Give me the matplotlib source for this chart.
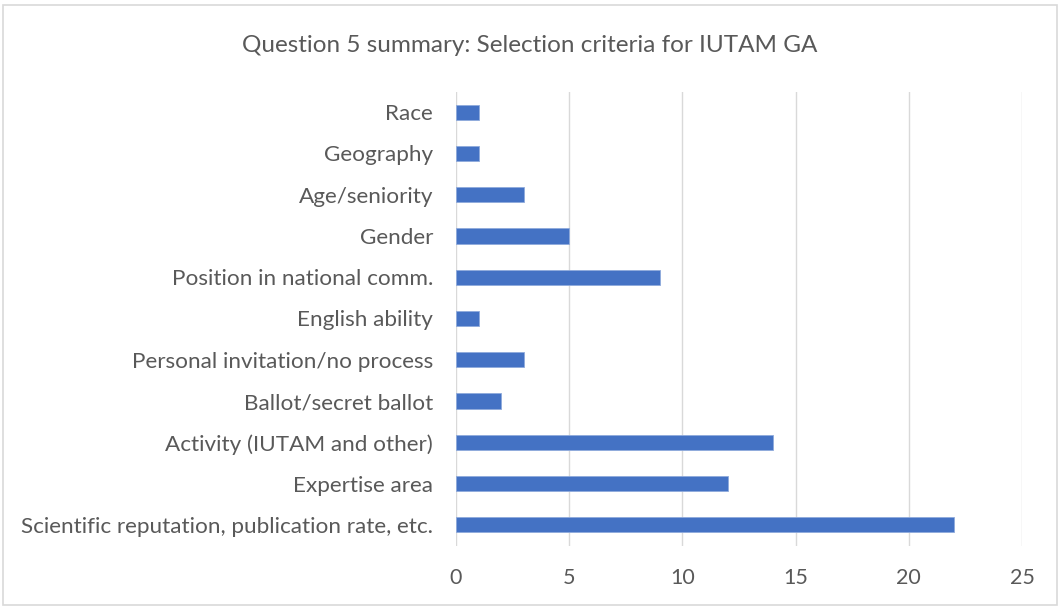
import matplotlib.pyplot as plt
from matplotlib.patches import Rectangle

# data, top to bottom as shown
criteria = ['Race', 'Geography', 'Age/seniority', 'Gender', 'Position in national comm.',
            'English ability', 'Personal invitation/no process', 'Ballot/secret ballot',
            'Activity (IUTAM and other)', 'Expertise area',
            'Scientific reputation, publication rate, etc.']
counts = [1, 1, 3, 5, 9, 1, 3, 2, 14, 12, 22]
xticks = [0, 5, 10, 15, 20, 25]

plt.rcParams['font.family'] = ['Lato', 'DejaVu Sans']
txt = '#595959'

fig = plt.figure(figsize=(10.6, 6.08), dpi=100)
ax = fig.add_axes([456 / 1060, 1 - 545.5 / 608, (1022 - 456) / 1060, (545.5 - 91.5) / 608])

ypos = list(range(len(criteria)))[::-1]
ax.barh(ypos, counts, height=0.37, color='#4472C4', edgecolor='#8FAADC', linewidth=0.6, zorder=3)

ax.set_xlim(0, 25)
ax.set_ylim(-0.5, len(criteria) - 0.5)
ax.set_xticks(xticks)
ax.set_yticks(ypos)
ax.set_yticklabels(criteria)
ax.grid(axis='x', color='#D9D9D9', linewidth=1, zorder=0)
for s in ax.spines.values():
    s.set_visible(False)
ax.tick_params(length=0, colors=txt)
ax.tick_params(axis='x', pad=16, labelsize=15.5)
ax.tick_params(axis='y', pad=16.5, labelsize=16.2)

fig.text(0.5, 1 - 45 / 608, 'Question 5 summary: Selection criteria for IUTAM GA',
         ha='center', va='center', fontsize=17.5, color=txt)

# chart border
fig.patches.append(Rectangle((3 / 1060, 3 / 608), 1054 / 1060, 600 / 608, transform=fig.transFigure,
                             fill=False, edgecolor='#D9D9D9', linewidth=1.2))

fig.savefig('out.png', dpi=100)
